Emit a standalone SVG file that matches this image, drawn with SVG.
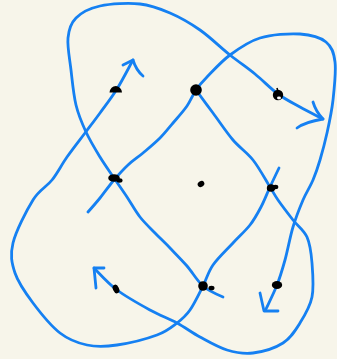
<svg xmlns="http://www.w3.org/2000/svg" width="337" height="359" viewBox="0 0 337 359">
<style>
.s{fill:none;stroke:#1580f2;stroke-width:2.8;stroke-linecap:round;stroke-linejoin:round}
.d{fill:#000}
</style>
<rect width="337" height="359" fill="#f7f5ea"/>
<g id="connectors">
<path class="s" d="M223,297 C223,297 209,291.2 203,286 S192.5,272.3 187,266 S175.3,253.5 170,248 S160,238.2 155,233 S144.7,223 140,217 S131.3,203.5 127,197 S118.5,184.7 114,178 S104.7,164.7 100,157 S90,140.7 86,132 S78.5,115.3 76,105 S72.3,81.2 71,70 S67.2,46.7 68,38 S70.7,23.3 76,18 S89.3,8.3 100,6 S128.3,2.8 140,4 S160,8.7 170,13 S190,23 200,30 S220.8,47.7 230,55 S247,67.5 255,74 S270.5,88.5 278,94 S292.5,102.8 300,107 S319.2,117 323,119"/>
<path class="s" d="M313,102 Q316,112 323,119 M297,128 Q305,122 323,119"/>
<path class="s" d="M88,212 C88,212 95.7,203.3 100,198 S109.3,185.5 114,180 S123.2,169.5 128,165 S137.7,157.5 143,153 S155,143 160,138 S168.5,128.3 173,123 S183.2,111.5 187,106 S192.7,94.8 196,90 S201.3,82.8 207,77 S221.2,61.5 230,55 S248.3,41.5 260,38 S289,33.3 300,34 S320.2,37.3 326,42 S333.8,52.3 335,62 S334.3,88.2 333,100 S329.2,123 327,133 S322.3,152.2 320,160 S315.8,173.3 313,180 S306.3,192.2 303,200 S296,217 293,227 S287.7,250.3 285,260 S280.2,276.8 277,285 S267.8,305 266,309"/>
<path class="s" d="M260,293 L264,311 L278,311"/>
<path class="s" d="M279,168 C279,168 273,180.5 270,187 S264.3,200.7 261,207 S254.7,219 250,225 S239.2,236.3 233,243 S218,257.8 213,265 S206.8,278.5 203,286 S194.3,303.8 190,310 S182.5,318.8 177,323 S167,331.3 157,335 S128.7,343.3 117,345 S96.5,347 87,345 S69,340 60,333 S40.5,313 33,303 S18.3,283 15,273 S10,255.2 13,243 S26.5,210.5 33,200 S46.3,187.2 52,180 S61.5,164.8 67,157 S79.5,140.3 85,133 S94.7,120.3 100,113 S111.5,97.8 117,89 S130.3,64.8 133,60"/>
<path class="s" d="M123,65 L133,60 Q136,70 143,76"/>
<path class="s" d="M196,90 C196,90 206.8,104.7 213,113 S226.3,132.2 233,140 S246.8,152.2 253,160 S265.8,180.3 270,187 S274.2,194.5 278,200 S288.2,213.8 293,220 S303.8,229.8 307,237 S311.2,253 312,263 S314,287 312,297 S304.8,315.3 300,323 S290.8,338 283,343 S262.3,351.8 253,353 S235.8,352.7 227,350 S208.3,341.5 200,337 S185.3,327.5 177,323 S160,315.5 150,310 S126.3,297 117,290 S97.8,271.7 94,268"/>
<path class="s" d="M96,288 L94,268 L104,268"/>
</g>
<g id="n1"><path class="d" d="M109.5,92.5 Q110.5,86 116,86 Q121.5,87 122,92.5 Z"/></g>
<g id="n2"><circle class="d" cx="196" cy="90" r="5.8"/></g>
<g id="n3"><circle class="d" cx="278" cy="95" r="5.2"/><ellipse cx="279" cy="98" rx="2" ry="1.4" fill="#fff"/><path d="M277,88 L278,92" stroke="#000" stroke-width="1.6"/></g>
<g id="n4"><ellipse class="d" cx="114" cy="178" rx="5.8" ry="3.8"/><ellipse class="d" cx="119.5" cy="180.5" rx="3" ry="2.2"/></g>
<g id="n5"><ellipse class="d" cx="201" cy="184" rx="3.5" ry="2.8" transform="rotate(-30 201 184)"/></g>
<g id="n6"><ellipse class="d" cx="271" cy="188" rx="4.2" ry="3.8"/><ellipse class="d" cx="275.5" cy="187" rx="2.8" ry="2.2"/><path d="M268,190 L272,185" stroke="#000" stroke-width="1.6"/></g>
<g id="n7"><circle class="d" cx="203" cy="286" r="4.8"/><ellipse class="d" cx="211.5" cy="288" rx="3" ry="2.3"/></g>
<g id="n8"><ellipse class="d" cx="116" cy="289" rx="3" ry="4.5" transform="rotate(-25 116 289)"/></g>
<g id="n9"><ellipse class="d" cx="277" cy="285" rx="5.2" ry="4"/></g>
</svg>
